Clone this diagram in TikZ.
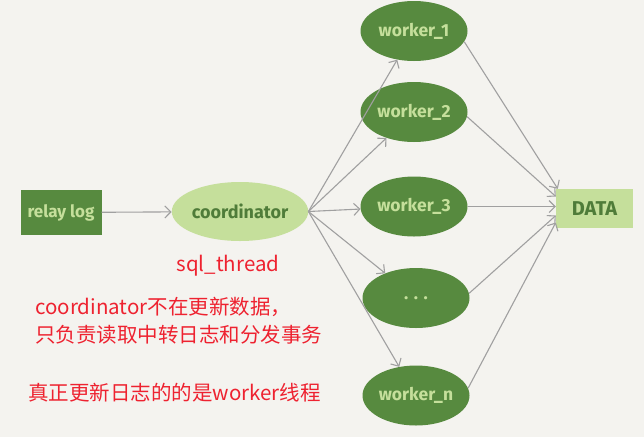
\documentclass[tikz,border=0pt]{standalone}
\usepackage{fontspec}
\setmainfont{Fira Sans}
\newfontfamily\cjk{Noto Sans CJK SC}
\usetikzlibrary{positioning,arrows.meta,shapes.geometric}
\definecolor{PaperBg}{HTML}{F4F3EF}
\definecolor{DarkLeaf}{HTML}{578A3F}
\definecolor{LightLeaf}{HTML}{C5DF9B}
\definecolor{LeafInk}{HTML}{4F7C39}
\definecolor{WireGray}{HTML}{A0A0A0}
\definecolor{NoteRed}{HTML}{EE2230}

\begin{document}
\begin{tikzpicture}[x=1pt,y=-1pt,>={Straight Barb[length=6pt,width=12pt]}]
      \tikzstyle{worker}=[ellipse,fill=DarkLeaf,text=LightLeaf,minimum width=107pt,minimum height=60pt,inner sep=0pt,font=\bfseries\fontsize{17.5}{20}\selectfont]
      \tikzstyle{wire}=[->,draw=WireGray,line width=1.1pt]
      \tikzstyle{note}=[anchor=west,text=NoteRed,inner sep=0pt,font=\cjk\fontsize{20.5}{24}\selectfont]
      \fill[PaperBg] (0,0) rectangle (644,437);
      \useasboundingbox (0,0) rectangle (644,437);
      \node[fill=DarkLeaf,text=LightLeaf,minimum width=81pt,minimum height=45pt,inner sep=0pt,font=\bfseries\fontsize{17}{20}\selectfont] (relay) at (61,212.5) {relay log};
      \node[ellipse,fill=LightLeaf,text=LeafInk,minimum width=135pt,minimum height=59pt,inner sep=0pt,font=\bfseries\fontsize{18}{20}\selectfont] (coord) at (240,211.5) {coordinator};
      \node[worker] (w1) at (414,31) {worker\_1};
      \node[worker] (w2) at (414,112) {worker\_2};
      \node[worker] (w3) at (414,206.5) {worker\_3};
      \node[worker] (wdots) at (416,298) {. . .};
      \node[worker] (wn) at (416,395.5) {worker\_n};
      \node[fill=LightLeaf,text=LeafInk,minimum width=77pt,minimum height=39pt,inner sep=0pt,font=\bfseries\fontsize{20}{22}\selectfont] (data) at (594.5,208.5) {DATA};
      \node[anchor=center,text=NoteRed,inner sep=0pt,font=\cjk\fontsize{20.5}{24}\selectfont] (sqlth) at (228,266) {sql\_thread};
      \node[note] (note1) at (35,307) {coordinator不在更新数据，};
      \node[note] (note2) at (35,335) {只负责读取中转日志和分发事务};
      \node[note] (note3) at (28,393) {真正更新日志的的是worker线程};
      \draw[wire] (relay) -- (coord);
      \draw[wire] (coord.east) -- (w1);
      \draw[wire] (coord.east) -- (w2);
      \draw[wire] (coord.east) -- (w3);
      \draw[wire] (coord.east) -- (wdots);
      \draw[wire] (coord.east) -- (wn);
      \draw[wire] (w1.-12) -- ([xshift=2pt]data.north west);
      \draw[wire] (w2.-5) -- ([yshift=12pt]data.west);
      \draw[wire] (w3.east) -- ([yshift=2pt]data.west);
      \draw[wire] (wdots.5) -- ([yshift=-7pt]data.west);
      \draw[wire] (wn.8) -- ([yshift=-14pt]data.west);
    \end{tikzpicture}
\end{document}
